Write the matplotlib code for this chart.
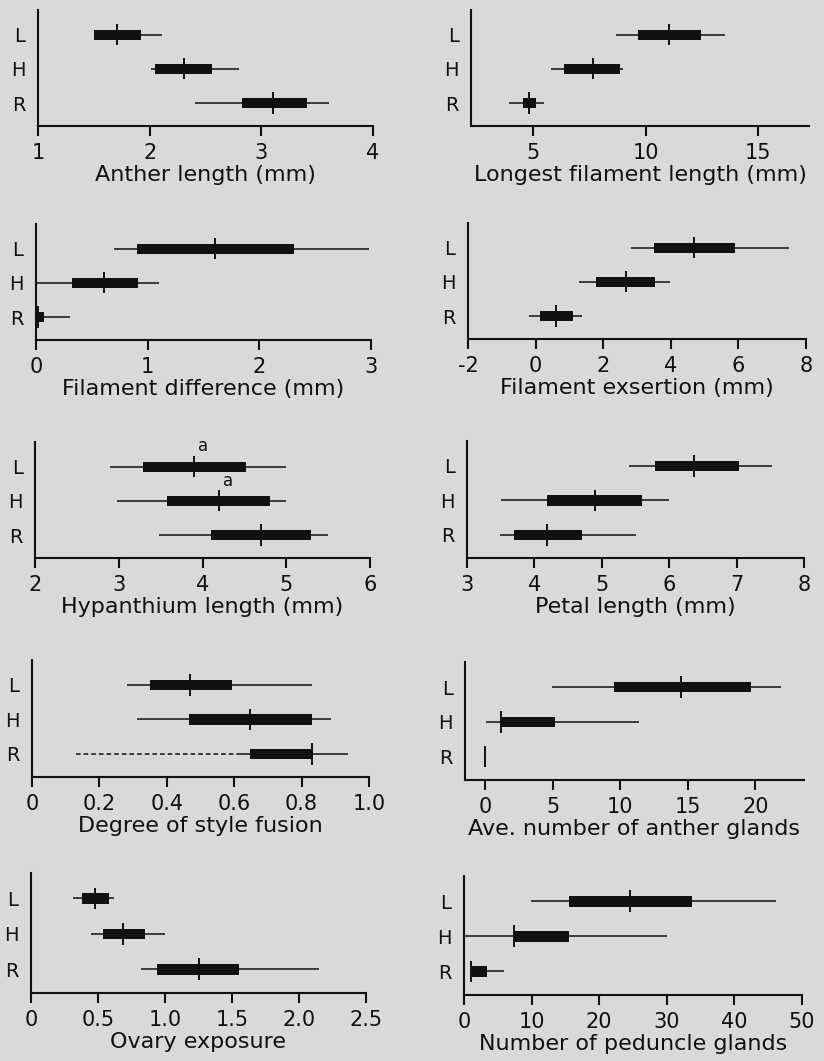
import matplotlib
matplotlib.use("Agg")
import matplotlib.pyplot as plt

plt.rcParams['font.family'] = ['DejaVu Sans']
plt.rcParams['axes.unicode_minus'] = False

# ---------------- data ----------------
categories = ["L", "H", "R"]
# each row: (min, box_low, mean, box_high, max) for L, H, R
anther_length = [(1.50, 1.50, 1.71, 1.92, 2.11),
                 (2.01, 2.05, 2.31, 2.56, 2.80),
                 (2.41, 2.83, 3.10, 3.41, 3.61)]
longest_filament = [(8.67, 9.64, 11.02, 12.46, 13.50),
                    (5.76, 6.34, 7.63, 8.86, 8.98),
                    (3.90, 4.52, 4.78, 5.10, 5.48)]
filament_difference = [(0.70, 0.90, 1.60, 2.31, 2.98),
                       (0.00, 0.32, 0.61, 0.91, 1.10),
                       (0.00, 0.00, 0.02, 0.07, 0.30)]
filament_exsertion = [(2.83, 3.49, 4.69, 5.90, 7.51),
                      (1.28, 1.79, 2.66, 3.53, 3.98),
                      (-0.20, 0.12, 0.61, 1.12, 1.36)]
hypanthium_length = [(2.89, 3.29, 3.90, 4.52, 5.00),
                     (2.98, 3.58, 4.20, 4.80, 5.00),
                     (3.48, 4.10, 4.70, 5.30, 5.50)]
petal_length = [(5.41, 5.79, 6.37, 7.03, 7.52),
                (3.51, 4.19, 4.90, 5.59, 5.99),
                (3.49, 3.69, 4.19, 4.71, 5.50)]
style_fusion = [(0.283, 0.351, 0.468, 0.594, 0.830),
                (0.313, 0.466, 0.646, 0.830, 0.887),
                (0.617, 0.647, 0.830, 0.830, 0.937)]
style_fusion_R_dashed_min = 0.132
anther_glands = [(4.98, 9.58, 14.5, 19.7, 21.9),
                 (0.10, 1.16, 1.16, 5.17, 11.4),
                 (0.0, 0.0, 0.0, 0.0, 0.0)]
ovary_exposure = [(0.31, 0.38, 0.48, 0.58, 0.62),
                  (0.45, 0.54, 0.69, 0.85, 1.00),
                  (0.82, 0.94, 1.25, 1.55, 2.15)]
peduncle_glands = [(9.87, 15.6, 24.5, 33.8, 46.2),
                   (0.15, 7.45, 7.45, 15.5, 30.0),
                   (1.10, 1.20, 1.10, 3.35, 5.97)]

hypanthium_letters = ["a", "a", ""]

ticks_anther = [1, 2, 3, 4]
ticks_longest = [5, 10, 15]
ticks_diff = [0, 1, 2, 3]
ticks_exsert = [-2, 0, 2, 4, 6, 8]
ticks_hyp = [2, 3, 4, 5, 6]
ticks_petal = [3, 4, 5, 6, 7, 8]
ticks_style = [0, 0.2, 0.4, 0.6, 0.8, 1.0]
ticklabels_style = ["0", "0.2", "0.4", "0.6", "0.8", "1.0"]
ticks_glands = [0, 5, 10, 15, 20]
ticks_ovary = [0, 0.5, 1.0, 1.5, 2.0, 2.5]
ticklabels_ovary = ["0", "0.5", "1.0", "1.5", "2.0", "2.5"]
ticks_ped = [0, 10, 20, 30, 40, 50]

# ---------------- layout ----------------
W, H = 824, 1061
BG = '#d9d9d9'
INK = '#111111'
fig = plt.figure(figsize=(W / 100, H / 100), dpi=100, facecolor=BG)

def make_ax(x0, x1, top, bot):
    ax = fig.add_axes([x0 / W, 1 - bot / H, (x1 - x0) / W, (bot - top) / H])
    ax.set_facecolor(BG)
    return ax

def draw_panel(ax, stats, xlim, ticks, xlabel, ticklabels=None):
    ypos = [3, 2, 1]
    for y, (mn, lo, mean, hi, mx) in zip(ypos, stats):
        ax.plot([mn, mx], [y, y], color=INK, lw=1.1, solid_capstyle='butt', zorder=2)
        if hi > lo:
            ax.fill_between([lo, hi], y - 0.15, y + 0.15, color=INK, lw=0, zorder=3)
        ax.plot([mean, mean], [y - 0.31, y + 0.31], color=INK, lw=1.4,
                solid_capstyle='butt', zorder=4)
    ax.set_xlim(*xlim)
    ax.set_ylim(0.33, 3.72)
    ax.set_yticks(ypos)
    ax.set_yticklabels(categories)
    ax.set_xticks(ticks)
    if ticklabels is not None:
        ax.set_xticklabels(ticklabels)
    for s in ['top', 'right']:
        ax.spines[s].set_visible(False)
    for s in ['left', 'bottom']:
        ax.spines[s].set_linewidth(1.5)
        ax.spines[s].set_color(INK)
    ax.tick_params(axis='y', length=0, pad=9, labelsize=14, colors=INK)
    ax.tick_params(axis='x', direction='out', length=7, width=1.5,
                   pad=5, labelsize=15, colors=INK)
    ax.set_xlabel(xlabel, fontsize=16, color=INK, labelpad=2)

panels = [
    ((38, 373, 10, 126), anther_length, (1, 4), ticks_anther, "Anther length (mm)", None),
    ((471, 809, 10, 126), longest_filament, (2.22, 17.26), ticks_longest,
     "Longest filament length (mm)", None),
    ((36, 371, 224, 340), filament_difference, (0, 3), ticks_diff,
     "Filament difference (mm)", None),
    ((468, 806, 223, 339), filament_exsertion, (-2, 8), ticks_exsert,
     "Filament exsertion (mm)", None),
    ((35, 370, 442, 558), hypanthium_length, (2, 6), ticks_hyp,
     "Hypanthium length (mm)", None),
    ((467, 804, 441, 558), petal_length, (3, 8), ticks_petal, "Petal length (mm)", None),
    ((32, 369, 660, 777), style_fusion, (0, 1.0), ticks_style,
     "Degree of style fusion", ticklabels_style),
    ((465, 804, 662, 780), anther_glands, (-1.48, 23.6), ticks_glands,
     "Ave. number of anther glands", None),
    ((31, 366, 873, 993), ovary_exposure, (0, 2.5), ticks_ovary,
     "Ovary exposure", ticklabels_ovary),
    ((464, 802, 876, 995), peduncle_glands, (0, 50), ticks_ped,
     "Number of peduncle glands", None),
]

axes = []
for rect, stats, xlim, ticks, label, tl in panels:
    ax = make_ax(*rect)
    draw_panel(ax, stats, xlim, ticks, label, tl)
    axes.append(ax)

# letters on hypanthium panel
ax_h = axes[4]
for y, (mn, lo, mean, hi, mx), letter in zip([3, 2, 1], hypanthium_length, hypanthium_letters):
    if letter:
        ax_h.text(mean + 0.05, y + 0.33, letter, fontsize=12, color=INK,
                  ha='left', va='bottom')

# dashed extension on style fusion R
ax_s = axes[6]
ax_s.plot([style_fusion_R_dashed_min, style_fusion[2][0]], [1, 1], color=INK,
          lw=1.1, ls=(0, (3, 2)), zorder=2)

fig.savefig("out.png", dpi=100, facecolor=BG)
